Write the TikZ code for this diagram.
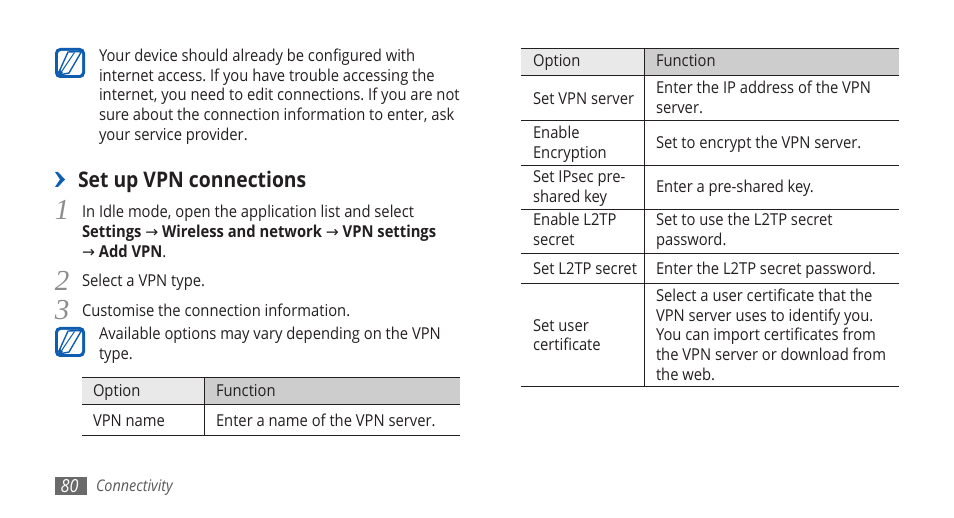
\documentclass[tikz,border=0pt]{standalone}
\usepackage{fontspec}
\setmainfont[FakeStretch=0.9]{Open Sans}
\newfontfamily\arrowfont{DejaVu Sans}
\newfontfamily\stepfont{Liberation Serif}
\newcommand{\arr}{{\arrowfont\fontsize{15.5}{15.5}\selectfont\char"2192}}
\AtBeginDocument{\frenchspacing}
\definecolor{iconblue}{HTML}{0F5DB0}
\definecolor{bodyink}{HTML}{231F20}
\definecolor{headone}{HTML}{E9E9E9}
\definecolor{headtwo}{HTML}{CDCDCD}
\definecolor{pagegrey}{HTML}{6A6A6A}
\tikzset{
  x=1pt,y=-1pt,
  bodytext/.style={anchor=west,inner sep=0pt,outer sep=0pt,align=left,text=bodyink,font=\fontsize{16.4}{19.8}\selectfont,execute at begin node=\strut,execute at end node=\strut},
  celltext/.style={bodytext},
  stepnum/.style={anchor=center,inner sep=0pt,text=black!45,font=\stepfont\itshape\fontsize{29}{29}\selectfont},
  rule/.style={draw=bodyink,line width=0.9pt},
  notemark/.pic={
    \fill[iconblue,rounded corners=5pt] (0,0) rectangle (30,30);
    \fill[white,rounded corners=3pt] (3,3) rectangle (27,27);
    \draw[iconblue,line width=1.4pt,line join=round] (4,24) -- (13,4) -- (26.5,3.5) -- (14,25) -- (4,27);
    \draw[iconblue,line width=1pt] (5,26) -- (10,18.5) -- (19.5,4.5);
    \fill[iconblue] (3,24) -- (5,22) -- (8,25) -- (4,28) -- cycle;
  }
}
\begin{document}
\begin{tikzpicture}
\useasboundingbox (0,0) rectangle (954,518);
\fill[white] (0,0) rectangle (954,518);

% notes
\pic at (55,48) {notemark};
\node[bodytext] (noteone) at (99,97.5) {Your device should already be configured with\\internet access. If you have trouble accessing the\\internet, you need to edit connections. If you are not\\sure about the connection information to enter, ask\\your service provider.};

% heading
\fill[iconblue] (55,172) -- (58,172) -- (65,179.5) -- (58,187) -- (55,187) -- (60,179.5) -- cycle;
\node[bodytext,font=\bfseries\fontsize{21.5}{24}\selectfont] (heading) at (78,183) {Set up VPN connections};

% steps
\node[stepnum] (numone) at (62,210) {1};
\node[bodytext] (stepone) at (82,234) {In Idle mode, open the application list and select\\\textbf{Settings} \arr{} \textbf{Wireless and network} \arr{} \textbf{VPN settings}\\\arr{} \textbf{Add VPN}.};
\node[stepnum] (numtwo) at (62,281) {2};
\node[bodytext] (steptwo) at (82,283) {Select a VPN type.};
\node[stepnum] (numthree) at (62,310) {3};
\node[bodytext] (stepthree) at (82,313) {Customise the connection information.};

\pic at (55,327) {notemark};
\node[bodytext] (notetwo) at (99,346.5) {Available options may vary depending on the VPN\\type.};

% small table
\fill[headone] (82,377.5) rectangle (204.5,404);
\fill[headtwo] (204.5,377.5) rectangle (460,404);
\draw[rule] (82,377.5) -- (460,377.5) (82,404) -- (460,404) (82,435.5) -- (460,435.5) (204.5,377.5) -- (204.5,435.5);
\node[celltext] (aopt) at (93,393) {Option};
\node[celltext] (afun) at (216,393) {Function};
\node[celltext] (bopt) at (93,423) {VPN name};
\node[celltext] (bfun) at (216,423) {Enter a name of the VPN server.};

% footer
\fill[pagegrey] (55,477) rectangle (87,495);
\node[anchor=center,inner sep=0pt,text=white,font=\itshape\fontsize{18}{18}\selectfont] (pagenum) at (69.5,486) {80};
\node[bodytext,font=\itshape\fontsize{16}{18}\selectfont,text=black!65] (section) at (96,487.5) {Connectivity};

% large table
\fill[headone] (521,48) rectangle (644,75);
\fill[headtwo] (644,48) rectangle (899,75);
\draw[rule] (521,48) -- (899,48) (521,75) -- (899,75) (521,120) -- (899,120) (521,165) -- (899,165) (521,209) -- (899,209) (521,253) -- (899,253) (521,283) -- (899,283) (521,386.5) -- (899,386.5) (644,48) -- (644,386.5);
\node[celltext] (copt) at (533,62.5) {Option};
\node[celltext] (cfun) at (656,62.5) {Function};
\node[celltext] (dopt) at (533,101) {Set VPN server};
\node[celltext] (dfun) at (656,100.5) {Enter the IP address of the VPN\\server.};
\node[celltext] (eopt) at (533,145) {Enable\\Encryption};
\node[celltext] (efun) at (656,144.5) {Set to encrypt the VPN server.};
\node[celltext] (fopt) at (533,189.5) {Set IPsec pre-\\shared key};
\node[celltext] (ffun) at (656,189) {Enter a pre-shared key.};
\node[celltext] (gopt) at (533,232.5) {Enable L2TP\\secret};
\node[celltext] (gfun) at (656,232.5) {Set to use the L2TP secret\\password.};
\node[celltext] (hopt) at (533,270.5) {Set L2TP secret};
\node[celltext] (hfun) at (656,271) {Enter the L2TP secret password.};
\node[celltext] (iopt) at (533,338) {Set user\\certificate};
\node[celltext] (ifun) at (656,337.5) {Select a user certificate that the\\VPN server uses to identify you.\\You can import certificates from\\the VPN server or download from\\the web.};
\end{tikzpicture}
\end{document}
